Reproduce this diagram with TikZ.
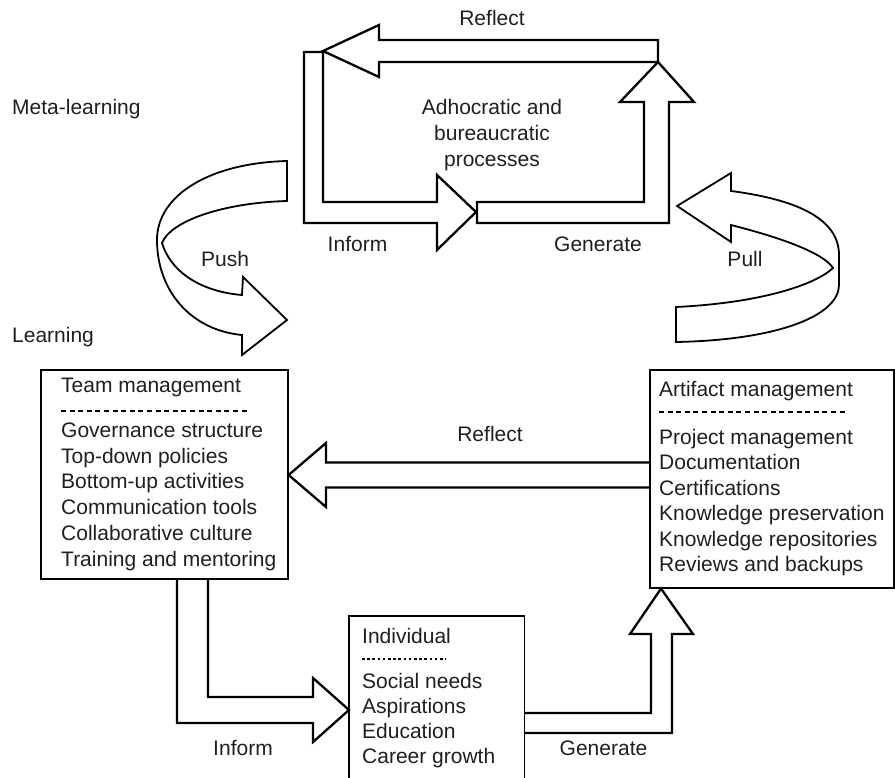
\documentclass[tikz,border=0pt]{standalone}
\usepackage{fontspec}
\setmainfont{Liberation Sans}
\begin{document}
\begin{tikzpicture}[x=1pt,y=-1pt,
  lbl/.style={font=\fontsize{21}{25}\selectfont, inner sep=0pt, text=black!88},
  box/.style={draw, line width=1.6pt, inner sep=0pt},
  blk/.style={draw, line width=2.3pt, line join=miter},
  rib/.style={draw, line width=1.8pt, line cap=round},
  sepline/.style={line width=1.8pt, dash pattern=on 5pt off 3.6pt},
  dotline/.style={line width=1.8pt, dash pattern=on 2.6pt off 2.6pt},
]
\useasboundingbox (0,0) rectangle (895,778);

% ---------- boxes ----------
\node[box, minimum width=247pt, minimum height=209pt, anchor=north west] (team) at (40,369) {};
\node[box, minimum width=244pt, minimum height=218pt, anchor=north west] (art) at (649,369) {};
\node[inner sep=0pt, minimum width=175pt, minimum height=162pt, anchor=north west] (indiv) at (349,616) {};
\draw[box] (indiv.south west) -- (indiv.north west) -- (indiv.north east) -- (indiv.south east);

% team text
\node[lbl, anchor=base west] (tm0) at (61,392) {Team management};
\draw[sepline] (61,411) -- (249,411);
\foreach \t [count=\i] in {Governance structure,Top-down policies,Bottom-up activities,Communication tools,Collaborative culture,Training and mentoring}
  \node[lbl, anchor=base west] (tm\i) at (61,{437.3+25.75*(\i-1)}) {\t};

% artifact text
\node[lbl, anchor=base west] (am0) at (659,396.7) {Artifact management};
\draw[sepline] (659,412) -- (845,412);
\foreach \t [count=\i] in {Project management,Documentation,Certifications,Knowledge preservation,Knowledge repositories,Reviews and backups}
  \node[lbl, anchor=base west] (am\i) at (659,{444.3+25.5*(\i-1)}) {\t};

% individual text
\node[lbl, anchor=base west] (in0) at (362,643.3) {Individual};
\draw[dotline] (362,659) -- (446,659);
\foreach \t [count=\i] in {Social needs,Aspirations,Education,Career growth}
  \node[lbl, anchor=base west] (in\i) at (362,{688.3+25*(\i-1)}) {\t};

% ---------- labels ----------
\node[lbl, anchor=base west] (meta) at (12,115) {Meta-learning};
\node[lbl, anchor=base west] (learn) at (12,342) {Learning};
\node[lbl, anchor=base] (reflTop) at (492,26) {Reflect};
\node[lbl, anchor=base] (proc1) at (492,114.5) {Adhocratic and};
\node[lbl, anchor=base] (proc2) at (492,141) {bureaucratic};
\node[lbl, anchor=base] (proc3) at (492,167) {processes};
\node[lbl, anchor=base] (infTop) at (357.5,252) {Inform};
\node[lbl, anchor=base] (genTop) at (598,252) {Generate};
\node[lbl, anchor=base] (push) at (225,267) {Push};
\node[lbl, anchor=base] (pull) at (745,267) {Pull};
\node[lbl, anchor=base] (reflMid) at (490,441) {Reflect};
\node[lbl, anchor=base] (infBot) at (243,755) {Inform};
\node[lbl, anchor=base] (genBot) at (603.5,755) {Generate};

% ---------- top loop ----------
\draw[blk] (658,40) -- (379,40) -- (379,25) -- (323,51) -- (379,77) -- (379,62) -- (658,62) -- cycle;
\draw[blk] (304,52) -- (323,52) -- (323,202) -- (437,202) -- (437,175) -- (476,212) -- (437,250) -- (437,223) -- (304,223) -- cycle;
\draw[blk] (477,202) -- (644,202) -- (644,102) -- (620,102) -- (658,62) -- (694,102) -- (669,102) -- (669,223) -- (477,223) -- cycle;

% ---------- push arrow ----------
\draw[rib] (287,161) .. controls (210,163) and (157,195) .. (157,240)
           .. controls (157,290) and (190,330) .. (242,335)
           -- (242,355) -- (287,320) -- (243,277) -- (242,295)
           .. controls (205,292) and (172,275) .. (162,243)
           .. controls (170,222) and (220,203) .. (287,201) -- cycle;

% ---------- pull arrow ----------
\draw[rib] (676,342) .. controls (780,340) and (839,315) .. (839,285)
           -- (839,255) .. controls (839,220) and (800,200) .. (731,191)
           -- (731,173) -- (677,206) -- (731,242) -- (731,225)
           .. controls (790,240) and (825,255) .. (833,268)
           .. controls (815,285) and (760,303) .. (676,307) -- cycle;

% ---------- middle reflect ----------
\draw[blk] (art.west |- 0,462.5) -- (326,462.5) -- (326,443) -- (team.east |- 0,475) -- (326,507) -- (326,487.5) -- (art.west |- 0,487.5);

% ---------- bottom inform ----------
\draw[blk] (team.south -| 177,0) -- (177,723) -- (313,723) -- (313,742) -- (indiv.west |- 0,710) -- (313,678) -- (313,697) -- (208,697) -- (team.south -| 208,0);

% ---------- bottom generate ----------
\draw[blk] (indiv.east |- 0,713) -- (651,713) -- (651,634) -- (630,634) -- (art.south -| 661,0) -- (693,634) -- (672,634) -- (672,733) -- (indiv.east |- 0,733);
\end{tikzpicture}
\end{document}
